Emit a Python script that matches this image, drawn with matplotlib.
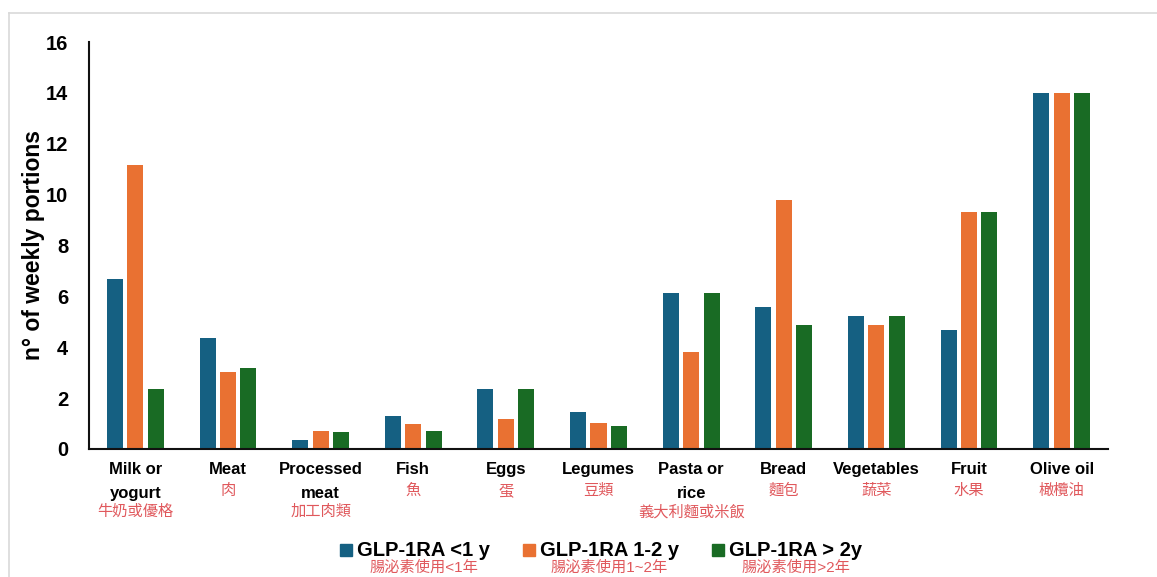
import numpy as np
import matplotlib
matplotlib.use("Agg")
import matplotlib.pyplot as plt
from matplotlib.patches import Rectangle
from matplotlib.lines import Line2D

plt.rcParams["font.family"] = ["Liberation Sans", "Noto Sans CJK TC", "DejaVu Sans"]

# weekly portions per food group, by time on GLP-1RA
foods_en = ["Milk or\nyogurt", "Meat", "Processed\nmeat", "Fish", "Eggs", "Legumes",
            "Pasta or\nrice", "Bread", "Vegetables", "Fruit", "Olive oil"]
foods_zh = ["牛奶或優格", "肉", "加工肉類", "魚", "蛋", "豆類",
            "義大利麵或米飯", "麵包", "蔬菜", "水果", "橄欖油"]

under_1y = [6.68, 4.36, 0.37, 1.30, 2.37, 1.45, 6.12, 5.58, 5.24, 4.66, 14.0]
from_1_to_2y = [11.16, 3.01, 0.72, 0.97, 1.18, 1.01, 3.80, 9.78, 4.86, 9.31, 14.0]
over_2y = [2.37, 3.18, 0.65, 0.72, 2.37, 0.90, 6.12, 4.88, 5.24, 9.31, 14.0]

series_en = ["GLP-1RA <1 y", "GLP-1RA 1-2 y", "GLP-1RA > 2y"]
series_zh = ["腸泌素使用<1年", "腸泌素使用1~2年", "腸泌素使用>2年"]
colors = ["#156082", "#E97132", "#196B24"]
zh_color = "#e0585c"

W, H = 1157, 577
fig = plt.figure(figsize=(W / 100, H / 100), dpi=100)
ax = fig.add_axes([89 / W, 1 - 449 / H, 1019 / W, 407 / H])

x = np.arange(len(foods_en))
step = 0.22
width = 0.173
for k, (vals, c) in enumerate(zip([under_1y, from_1_to_2y, over_2y], colors)):
    ax.bar(x + (k - 1) * step, vals, width=width, color=c, zorder=2)

ax.set_xlim(-0.5, len(foods_en) - 0.5)
ax.set_ylim(0, 16)
ax.set_yticks(range(0, 17, 2))
ax.tick_params(axis="y", length=0, pad=15, labelsize=14.5)
for lab in ax.get_yticklabels():
    lab.set_fontweight("bold")
ax.set_xticks([])
for s in ["top", "right"]:
    ax.spines[s].set_visible(False)
for s in ["left", "bottom"]:
    ax.spines[s].set_linewidth(1.5)
    ax.spines[s].set_color("#111111")

ax.set_ylabel("n° of weekly portions", fontsize=16.5, fontweight="bold", va="center")
ax.yaxis.set_label_coords((34 - 89) / 1019, 0.5)

# two-language category labels under the axis
for i, (en, zh) in enumerate(zip(foods_en, foods_zh)):
    lines = en.split("\n")
    for j, line in enumerate(lines):
        ax.annotate(line, xy=(i, 0), xycoords=("data", "axes fraction"),
                    xytext=(0, -15.1 - 16.6 * j), textcoords="offset points",
                    ha="center", va="center", fontsize=12, fontweight="bold")
    ax.annotate(zh, xy=(i, 0), xycoords=("data", "axes fraction"),
                xytext=(0, -30.2 - 15.1 * (len(lines) - 1)), textcoords="offset points",
                ha="center", va="center", fontsize=11, color=zh_color)

# legend drawn by hand so each entry can carry its Chinese caption
key_left = [340, 523, 712]
for xl, name, zh, c in zip(key_left, series_en, series_zh, colors):
    fig.patches.append(Rectangle((xl / W, 1 - 556 / H), 12 / W, 12 / H,
                                 transform=fig.transFigure, color=c))
    t = fig.text((xl + 17) / W, 1 - 550 / H, name, ha="left", va="center",
                 fontsize=14.5, fontweight="bold")
    fig.canvas.draw()
    bb = t.get_window_extent()
    fig.text((bb.x0 + bb.x1) / 2 / W, 1 - 568 / H, zh, ha="center", va="center",
             fontsize=11, color=zh_color)

# thin grey frame along top and left edge
fig.add_artist(Line2D([9 / W, 1], [1 - 13 / H, 1 - 13 / H], transform=fig.transFigure,
                      color="#d9d9d9", lw=1.2))
fig.add_artist(Line2D([9 / W, 9 / W], [0, 1 - 13 / H], transform=fig.transFigure,
                      color="#d9d9d9", lw=1.2))

fig.savefig("out.png", dpi=100)
